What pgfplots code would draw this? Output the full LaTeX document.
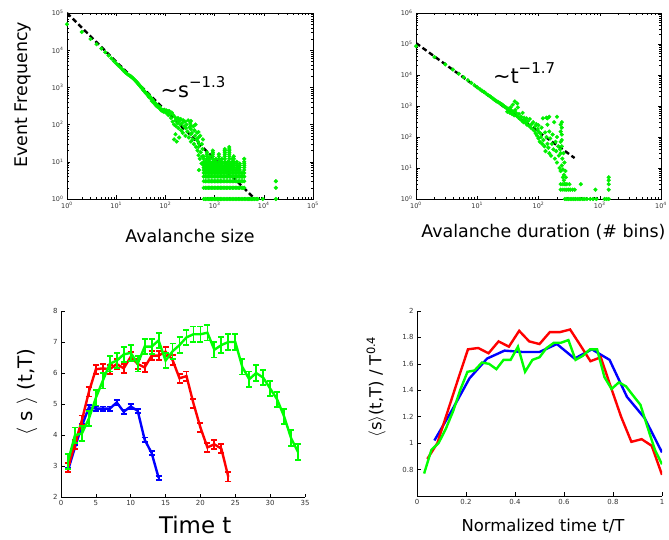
\documentclass[border=0pt]{standalone}
\usepackage{fontspec}
\setmainfont{DejaVu Sans}
\usepackage{pgfplots}
\pgfplotsset{compat=1.18}
\definecolor{mgreen}{RGB}{0,240,0}
\definecolor{lgreen}{RGB}{0,255,0}
\pgfplotsset{
  base/.style={scale only axis, anchor=south west,
    tick label style={font=\fontsize{6.5}{7}\selectfont, color=black!80},
    /pgf/number format/assume math mode=true,
    axis line style={line width=0.8bp},
    tick style={line width=0.5bp, black},
    tick align=inside,
    major tick length=3.5bp, minor tick length=2bp},
  loglab/.style={log base 10 number format code/.code={10\textsuperscript{\pgfmathprintnumber{##1}}}},
}
\begin{document}
\begin{tikzpicture}
\useasboundingbox (0,0) rectangle (669bp,540bp);
% ---------------- top left
\begin{axis}[base, loglab, at={(67bp,341bp)}, width=246bp, height=186bp,
  xmode=log, ymode=log, xmin=1, xmax=1e5, ymin=1, ymax=1e5,
  xlabel={Avalanche size}, ylabel={Event Frequency},
  label style={font=\fontsize{17.5}{20}\selectfont},
  xlabel style={at={(axis description cs:0.5,-0.199)}, anchor=center},
  ylabel style={at={(axis description cs:-0.179,0.56)}, anchor=center}]
\addplot[only marks, mark=*, mark size=1.9bp, mark options={draw=mgreen, fill=mgreen}] coordinates {
(1,50000)(2,31000)(3,20000)(4,14500)(5,11000)(6,8800)(7,7200)(8,6000)(9,5100)(10,4400)
(11,3900)(12,3500)(13,3150)(14,2850)(15,2600)(16,2400)(17,2250)(18,2150)(19,2050)(20,1950)
(21,1850)(22,1750)(23,1650)(24,1560)(25,1480)(26,1400)(27,1320)(28,1250)(29,1180)(30,1120)
(32,1000)(34,950)(35,870)(36,820)(38,780)(40,700)(42,680)(44,600)(45,640)(47,540)(48,580)
(50,520)(52,500)(53,430)(55,460)(57,420)(58,380)(60,400)(62,370)(64,330)(65,360)(67,310)
(70,330)(72,290)(75,280)(77,300)(80,260)(82,240)(85,250)(88,230)(90,245)(93,220)(95,250)
(100,230)(103,210)(105,240)(110,200)(113,230)(115,180)
(120,230)(125,190)(130,150)(135,210)(140,120)(145,180)(150,100)(150,40)(155,160)(160,130)(160,55)
(165,90)(170,140)(170,35)(175,110)(180,150)(185,80)(190,125)(190,45)(200,100)(205,140)(210,70)
(220,110)(225,60)(230,130)(240,90)(250,120)(255,50)(260,80)(270,100)(280,65)(290,130)(300,45)
(310,85)(320,110)(330,35)(330,55)(330,75)(330,95)(330,125)(345,60)(360,40)(370,90)(380,30)
(390,70)(400,50)(410,100)(420,25)(430,40)(440,60)(450,20)(460,35)(470,15)(470,25)(470,45)
(470,63)(480,6)(490,30)(500,12)(510,50)(520,18)(540,9)(550,30)(560,14)(570,22)(580,40)
(600,1)(600,2)(600,3)(600,4)(600,5)(600,6)(600,7)(600,8)(600,9)(600,10)(600,12)(600,14)
(650,1)(650,2)(650,3)(650,4)(650,5)(650,6)(650,7)(650,8)(650,9)(650,10)
(700,1)(700,2)(700,3)(700,4)(700,5)(700,6)(700,7)(700,8)(700,9)(700,10)(700,12)(700,14)(700,16)(700,18)
(750,1)(750,2)(750,3)(750,4)(750,5)(750,6)(750,7)(750,8)(750,9)(750,10)(750,12)
(800,1)(800,2)(800,3)(800,4)(800,5)(800,6)(800,7)(800,8)(800,9)(800,10)(800,12)(800,14)
(860,1)(860,2)(860,3)(860,4)(860,5)(860,6)(860,7)(860,8)(860,9)
(920,1)(920,2)(920,3)(920,4)(920,5)(920,6)(920,7)(920,8)(920,9)(920,10)(920,12)(920,14)(920,16)(920,18)(920,20)
(990,1)(990,2)(990,3)(990,4)(990,5)(990,6)(990,7)(990,8)(990,9)(990,10)
(1060,1)(1060,2)(1060,3)(1060,4)(1060,5)(1060,6)(1060,7)(1060,8)(1060,9)(1060,10)(1060,12)
(1140,1)(1140,2)(1140,3)(1140,4)(1140,5)(1140,6)(1140,7)(1140,8)
(1220,1)(1220,2)(1220,3)(1220,4)(1220,5)(1220,6)(1220,7)(1220,8)(1220,9)(1220,10)(1220,12)(1220,14)(1220,16)
(1310,1)(1310,2)(1310,3)(1310,4)(1310,5)(1310,6)(1310,7)(1310,8)(1310,9)(1310,10)
(1400,1)(1400,2)(1400,3)(1400,4)(1400,5)(1400,6)(1400,7)(1400,8)(1400,9)(1400,10)(1400,12)
(1500,1)(1500,2)(1500,3)(1500,4)(1500,5)(1500,6)(1500,7)
(1610,1)(1610,2)(1610,3)(1610,4)(1610,5)(1610,6)(1610,7)(1610,8)(1610,9)(1610,10)(1610,12)(1610,14)(1610,16)(1610,18)(1610,20)(1610,22)
(1730,1)(1730,2)(1730,3)(1730,4)(1730,5)(1730,6)(1730,7)(1730,8)(1730,9)
(1850,1)(1850,2)(1850,3)(1850,4)(1850,5)(1850,6)(1850,7)(1850,8)(1850,9)(1850,10)
(1990,1)(1990,2)(1990,3)(1990,4)(1990,5)(1990,6)(1990,7)(1990,8)(1990,9)(1990,10)(1990,12)(1990,14)(1990,16)(1990,18)(1990,20)(1990,22)(1990,25)
(2130,1)(2130,2)(2130,3)(2130,4)(2130,5)(2130,6)(2130,7)(2130,8)
(2290,1)(2290,2)(2290,3)(2290,4)(2290,5)(2290,6)(2290,7)(2290,8)(2290,9)(2290,10)(2290,12)
(2450,1)(2450,2)(2450,3)(2450,4)(2450,5)(2450,6)(2450,7)(2450,8)(2450,9)(2450,10)(2450,12)(2450,14)
(2630,1)(2630,2)(2630,3)(2630,4)(2630,5)(2630,6)
(2820,1)(2820,2)(2820,3)(2820,4)(2820,5)(2820,6)(2820,7)(2820,8)(2820,9)(2820,10)
(3020,1)(3020,2)(3020,3)(3020,4)(3020,5)(3020,6)(3020,7)
(3240,1)(3240,2)(3240,3)(3240,4)(3240,5)(3240,6)(3240,7)(3240,8)(3240,9)
(3480,1)(3480,2)(3480,3)(3480,4)(3480,5)
(3730,1)(3730,2)(3730,3)(3730,4)(3730,5)
(4000,1)(4000,2)(4000,3)(4000,4)(4000,5)(4000,6)(4000,7)(4000,8)(4000,9)(4000,10)(4000,12)
(4300,1)(4600,1)(4900,1)(5200,1)(5600,1)(6000,1)(6500,1)(7000,1)(7500,1)(9500,1)
(17600,1)(17600,2)(17600,3)
};
\addplot[black, line width=2.4bp, dash pattern=on 5bp off 3bp] coordinates {(1,1e5) (6600,1)};
\node[anchor=center, font=\fontsize{21}{22}\selectfont] at (axis cs:363,1030) {\textasciitilde s\raisebox{0.5em}{\fontsize{15}{16}\selectfont −1.3}};
\end{axis}
% ---------------- top right
\begin{axis}[base, loglab, at={(416bp,341bp)}, width=245bp, height=186bp,
  xmode=log, ymode=log, xmin=1, xmax=1e4, ymin=1, ymax=1e6,
  xlabel={Avalanche duration (\# bins)},
  label style={font=\fontsize{17.5}{20}\selectfont},
  xlabel style={at={(axis description cs:0.52,-0.177)}, anchor=center}]
\addplot[only marks, mark=*, mark size=1.9bp, mark options={draw=mgreen, fill=mgreen}] coordinates {
(1,85000)(2,38000)(3,22000)(4,15000)(5,11000)(6,8500)(7,6800)(8,5600)(9,4700)(10,4000)
(11,3500)(12,3100)(13,2800)(14,2500)(15,2250)(16,2100)(17,1900)(18,1750)(19,1600)(20,1500)
(21,1400)(22,1350)(23,1250)(24,1200)(25,1150)(26,1080)(27,1000)(28,950)(29,900)(30,880)
(31,650)(32,820)(33,780)(34,600)(35,900)(36,720)(37,550)(38,1100)(39,650)(40,500)(41,1400)
(42,750)(43,600)(44,480)(45,1200)(46,900)(47,420)(48,550)(50,380)(52,450)(54,330)(55,600)
(57,300)(58,420)(60,350)(62,280)(64,400)(65,250)(67,320)(70,230)(72,380)(75,200)(77,260)
(80,180)(82,300)(85,160)(88,220)(90,130)(92,260)(95,110)(97,180)(100,90)(100,150)(100,240)
(105,70)(108,130)(110,100)(112,200)(115,60)(118,400)(120,80)(125,50)(128,140)(130,35)
(135,100)(135,420)(140,60)(140,250)(140,400)(145,45)(150,30)(150,150)(150,450)(155,90)(160,25)
(165,60)(170,120)(175,40)(180,300)(185,20)(190,70)(195,35)(200,15)(200,100)(200,450)
(210,50)(215,25)(220,10)(225,40)(230,8)(230,30)(230,70)(230,150)(230,250)
(240,12)(240,50)(240,80)(240,120)(240,200)(240,300)(245,20)(250,5)(250,9)(255,30)
(260,4)(260,6)(265,15)(270,3)(275,8)(280,5)
(270,1)(290,1)(310,1)(330,1)(350,1)(375,1)(400,1)(430,1)(460,1)(490,1)(530,1)(570,1)(620,1)
(700,1)(780,1)(880,1)(1200,1)(1300,1)
(230,2)(250,2)(270,2)(290,2)(310,2)(330,2)(360,2)(390,2)
(230,3)(250,3)(270,3)(290,3)(320,3)(490,3)(850,2)
(1400,1)(1400,2)(1400,3)(1400,4)(1400,5)
};
\addplot[black, line width=2.4bp, dash pattern=on 5bp off 3bp] coordinates {(1,1.07e5) (388,21)};
\node[anchor=center, font=\fontsize{21}{22}\selectfont] at (axis cs:58,1.15e4) {\textasciitilde t\raisebox{0.5em}{\fontsize{15}{16}\selectfont −1.7}};
\end{axis}
% ---------------- bottom left
\begin{axis}[base, at={(61bp,43bp)}, width=244bp, height=186bp,
  xmin=0, xmax=35, ymin=2, ymax=8, xtick={0,5,...,35}, ytick={2,3,...,8},
  axis x line*=bottom, axis y line*=left, axis line style={-},
  tick label style={font=\fontsize{7}{8}\selectfont},
  xlabel={Time t}, ylabel={$\langle$ s $\rangle$ (t,T)},
  xlabel style={font=\fontsize{23}{25}\selectfont, at={(axis description cs:0.55,-0.15)}, anchor=center},
  ylabel style={font=\fontsize{20}{22}\selectfont, at={(axis description cs:-0.139,0.565)}, anchor=center}]
\addplot[blue, line width=2.4bp, mark=none, error bars/.cd, y dir=both, y fixed=0.07,
  error mark options={rotate=90, mark size=3bp, line width=1.8bp, blue}, error bar style={line width=1.8bp}] coordinates {
(1,2.86)(2,3.6)(3,4.3)(4,4.89)(5,4.85)(6,4.85)(7,4.85)(8,5.05)(9,4.75)(10,4.92)(11,4.78)(12,3.85)(13,3.42)(14,2.62)};
\addplot[red, line width=2.4bp, mark=none, error bars/.cd, y dir=both, y fixed=0.15,
  error mark options={rotate=90, mark size=3bp, line width=1.8bp, red}, error bar style={line width=1.8bp}] coordinates {
(1,2.95)(2,3.7)(3,4.48)(4,5.39)(5,6.12)(6,6.15)(7,6.12)(8,6.29)(9,6.15)(10,6.52)(11,6.29)(12,6.18)
(13,6.56)(14,6.56)(15,6.69)(16,6.42)(17,5.83)(18,5.9)(19,5.02)(20,4.24)(21,3.6)(22,3.7)(23,3.56)(24,2.65)};
\addplot[lgreen, line width=2.4bp, mark=none, error bars/.cd, y dir=both, y fixed=0.25,
  error mark options={rotate=90, mark size=3bp, line width=1.8bp, lgreen}, error bar style={line width=1.8bp}] coordinates {
(1,3.15)(2,3.99)(3,4.05)(4,4.53)(5,5.2)(6,5.75)(7,6.3)(8,6.4)(9,6.6)(10,6.65)(11,6.3)(12,6.85)
(13,6.85)(14,7.05)(15,6.4)(16,6.7)(17,6.9)(18,7.15)(19,7.25)(20,7.25)(21,7.3)(22,6.75)(23,6.9)
(24,7.0)(25,7.0)(26,6.2)(27,5.8)(28,6.0)(29,5.85)(30,5.5)(31,5.15)(32,4.6)(33,3.9)(34,3.45)};
\end{axis}
% ---------------- bottom right
\begin{axis}[base, at={(417bp,44bp)}, width=245bp, height=185bp,
  xmin=0, xmax=1, ymin=0.6, ymax=2, xtick={0,0.2,...,1}, ytick={0.8,1,...,2},
  axis x line*=bottom, axis y line*=left, axis line style={-},
  tick label style={font=\fontsize{7}{8}\selectfont, /pgf/number format/fixed},
  xlabel={Normalized time t/T}, ylabel={$\langle$s$\rangle$(t,T) / T\textsuperscript{0.4}},
  label style={font=\fontsize{16.5}{18}\selectfont},
  xlabel style={at={(axis description cs:0.514,-0.162)}, anchor=center},
  ylabel style={at={(axis description cs:-0.167,0.59)}, anchor=center}]
\addplot[blue, line width=2.4bp, mark=none] coordinates {
(0.071,1.02)(0.143,1.25)(0.214,1.49)(0.286,1.64)(0.357,1.70)(0.429,1.69)(0.5,1.69)(0.571,1.75)
(0.643,1.64)(0.714,1.71)(0.786,1.63)(0.857,1.35)(0.929,1.19)(1.0,0.93)};
\addplot[red, line width=2.4bp, mark=none] coordinates {
(0.042,0.88)(0.083,1.0)(0.125,1.24)(0.167,1.48)(0.208,1.71)(0.25,1.72)(0.292,1.68)(0.333,1.77)
(0.375,1.73)(0.417,1.85)(0.458,1.77)(0.5,1.75)(0.542,1.84)(0.583,1.84)(0.625,1.86)(0.667,1.74)
(0.708,1.62)(0.75,1.65)(0.792,1.42)(0.833,1.2)(0.875,1.01)(0.917,1.03)(0.958,0.98)(1.0,0.76)};
\addplot[lgreen, line width=2.4bp, mark=none] coordinates {
(0.029,0.77)(0.059,0.95)(0.088,1.0)(0.118,1.11)(0.147,1.24)(0.176,1.4)(0.206,1.54)(0.235,1.55)
(0.265,1.61)(0.294,1.6)(0.324,1.56)(0.353,1.63)(0.382,1.63)(0.412,1.73)(0.441,1.54)(0.471,1.63)
(0.5,1.65)(0.529,1.72)(0.559,1.76)(0.588,1.76)(0.618,1.78)(0.647,1.63)(0.676,1.66)(0.706,1.71)
(0.735,1.71)(0.765,1.5)(0.794,1.41)(0.824,1.46)(0.853,1.43)(0.882,1.36)(0.912,1.29)(0.941,1.12)
(0.971,0.95)(1.0,0.84)};
\end{axis}
\end{tikzpicture}
\end{document}
